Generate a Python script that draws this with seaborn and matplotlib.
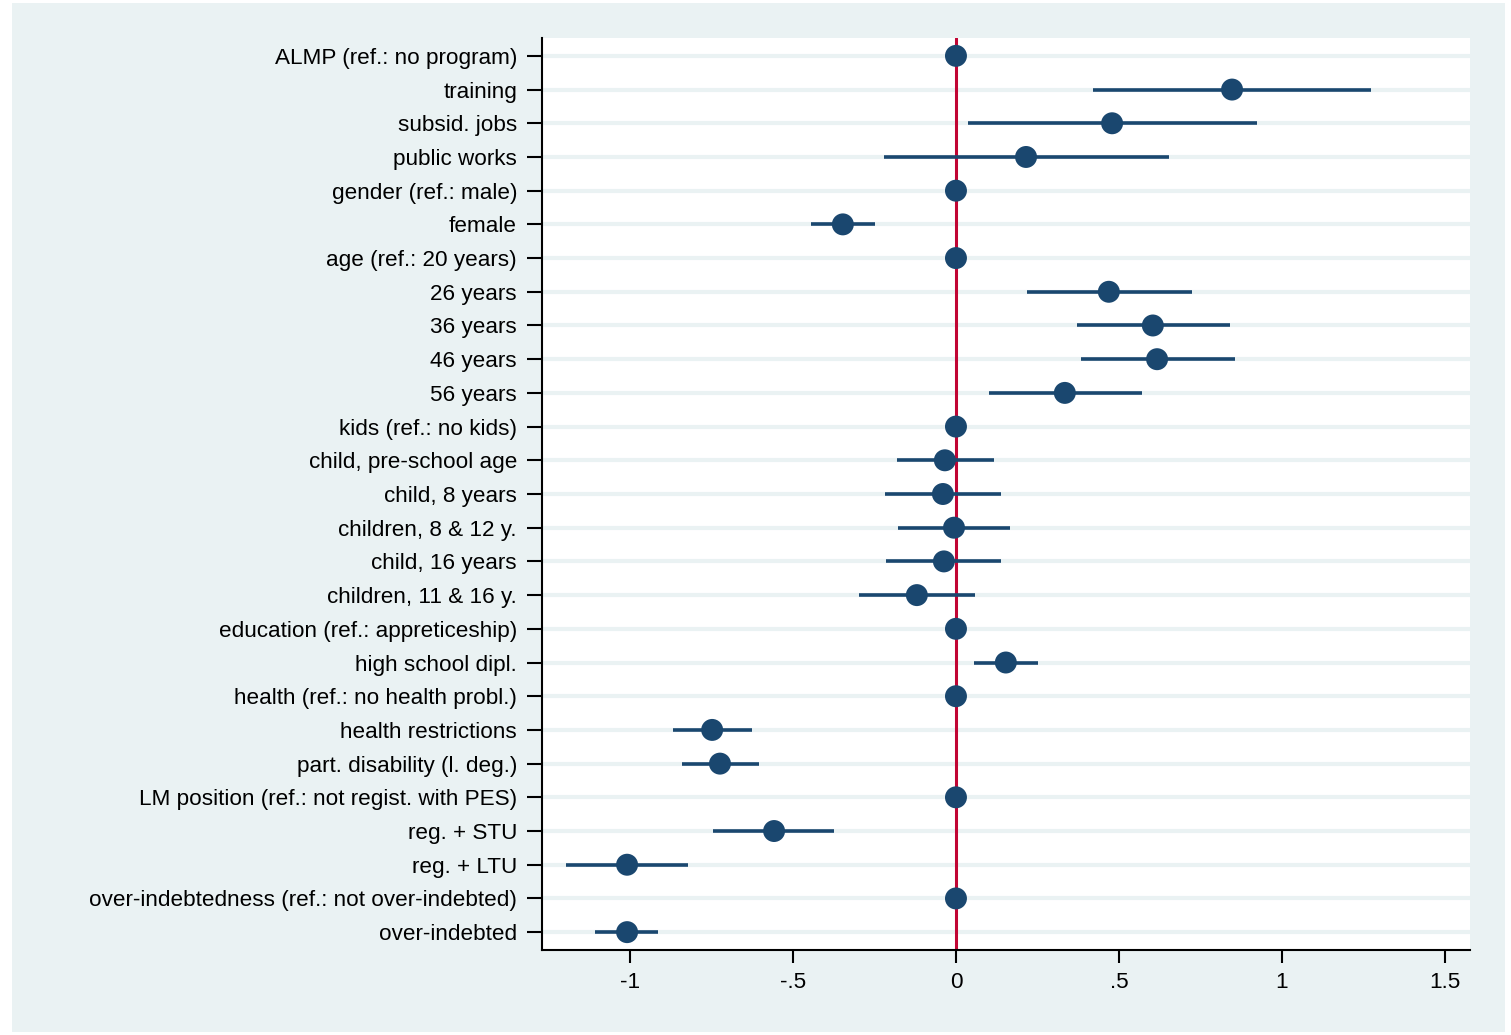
import numpy as np
import pandas as pd
import matplotlib
matplotlib.use("Agg")
import matplotlib.pyplot as plt
import seaborn as sns
from matplotlib.patches import Rectangle

labels = [
    "ALMP (ref.: no program)", "training", "subsid. jobs", "public works",
    "gender (ref.: male)", "female",
    "age (ref.: 20 years)", "26 years", "36 years", "46 years", "56 years",
    "kids (ref.: no kids)", "child, pre-school age", "child, 8 years",
    "children, 8 & 12 y.", "child, 16 years", "children, 11 & 16 y.",
    "education (ref.: appreticeship)", "high school dipl.",
    "health (ref.: no health probl.)", "health restrictions",
    "part. disability (l. deg.)",
    "LM position (ref.: not regist. with PES)", "reg. + STU", "reg. + LTU",
    "over-indebtedness (ref.: not over-indebted)", "over-indebted",
]
coef = [0, 0.847, 0.479, 0.215,
        0, -0.347,
        0, 0.469, 0.604, 0.617, 0.334,
        0, -0.034, -0.040, -0.006, -0.037, -0.120,
        0, 0.153,
        0, -0.748, -0.724,
        0, -0.558, -1.009,
        0, -1.009]
ci_low = [np.nan, 0.420, 0.037, -0.221,
          np.nan, -0.445,
          np.nan, 0.218, 0.371, 0.383, 0.101,
          np.nan, -0.181, -0.218, -0.178, -0.215, -0.298,
          np.nan, 0.055,
          np.nan, -0.868, -0.840,
          np.nan, -0.745, -1.196,
          np.nan, -1.107]
ci_high = [np.nan, 1.273, 0.923, 0.653,
           np.nan, -0.248,
           np.nan, 0.724, 0.840, 0.856, 0.571,
           np.nan, 0.117, 0.138, 0.166, 0.138, 0.058,
           np.nan, 0.252,
           np.nan, -0.626, -0.604,
           np.nan, -0.374, -0.822,
           np.nan, -0.914]
xticks = [-1, -0.5, 0, 0.5, 1, 1.5]
xticklabels = ["-1", "-.5", "0", ".5", "1", "1.5"]

df = pd.DataFrame({"label": labels, "coef": coef, "lo": ci_low, "hi": ci_high})
df["pos"] = np.arange(len(df))

navy = "#1A476F"
red = "#C10534"
bg = "#EAF2F3"

sns.set_theme(style="white")
plt.rcParams["font.family"] = ["Liberation Sans", "DejaVu Sans"]

fig = plt.figure(figsize=(15.11, 10.35), dpi=100)
fig.patch.set_facecolor("white")
bgrect = Rectangle((12 / 1511, 1 - 1032 / 1035), (1505 - 12) / 1511, (1032 - 3) / 1035,
                   transform=fig.transFigure, facecolor=bg, edgecolor="none", zorder=-10)
fig.add_artist(bgrect)
ax = fig.add_axes([542 / 1511, 1 - 950 / 1035, (1470 - 542) / 1511, (950 - 38) / 1035])
ax.set_zorder(1)
ax.set_facecolor("white")

for p in df["pos"]:
    ax.axhline(p, color=bg, lw=3, zorder=0)

ax.axvline(0, color=red, lw=2.2, zorder=1)
ci = df.dropna()
ax.hlines(ci["pos"], ci["lo"], ci["hi"], color=navy, lw=2.6, zorder=2)
sns.scatterplot(data=df, x="coef", y="pos", ax=ax, color=navy, s=250,
                edgecolor="none", zorder=3, legend=False)

ax.set_xlim(-1.27, 1.577)
ax.set_ylim(26.53, -0.53)
ax.set_yticks(df["pos"])
ax.set_yticklabels(df["label"])
ax.set_xticks(xticks)
ax.set_xticklabels(xticklabels)
ax.set_xlabel("")
ax.set_ylabel("")
ax.tick_params(axis="y", length=11, width=1.5, color="black", direction="out",
               labelsize=16.2, labelcolor="black", pad=7, left=True)
ax.tick_params(axis="x", length=9.5, width=1.5, color="black", direction="out",
               labelsize=16.2, labelcolor="black", pad=6, bottom=True)
for s in ["top", "right"]:
    ax.spines[s].set_visible(False)
for s in ["left", "bottom"]:
    ax.spines[s].set_color("black")
    ax.spines[s].set_linewidth(1.5)

fig.savefig("out.png", dpi=100, facecolor="white")
